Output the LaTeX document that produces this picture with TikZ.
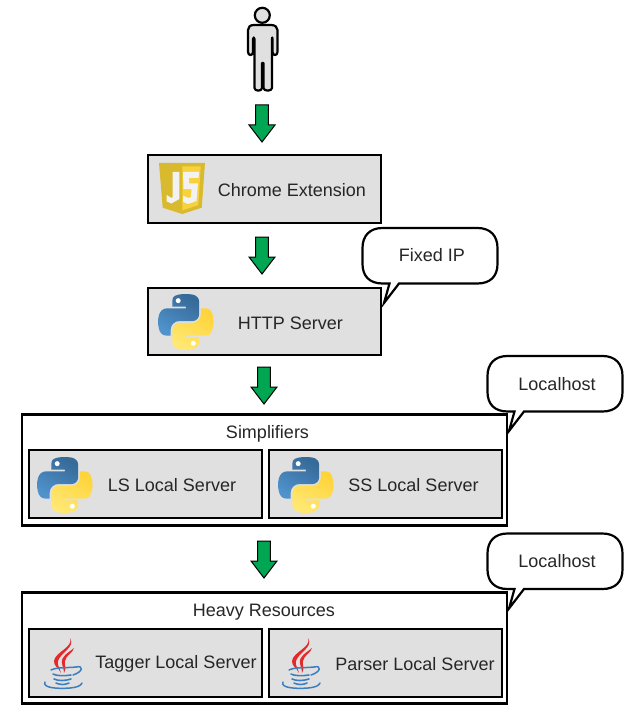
\documentclass[tikz,border=0pt]{standalone}
\usepackage{fontspec}
\setmainfont{Liberation Sans}
\usetikzlibrary{svg.path,calc}
\definecolor{boxgray}{HTML}{E0E0E0}
\definecolor{arrowgreen}{HTML}{00A651}
\definecolor{jsdark}{HTML}{D9B92E}
\definecolor{jslight}{HTML}{F7D23C}
\definecolor{jsletter}{HTML}{F2F2F2}
\definecolor{javared}{HTML}{E3292B}
\definecolor{javablue}{HTML}{3C7FC0}
\definecolor{pybluedark}{HTML}{366A98}
\definecolor{pybluelight}{HTML}{5092CC}
\definecolor{pyyeldark}{HTML}{FFD43B}
\definecolor{pyyellight}{HTML}{FFE873}
\tikzset{
  x=1pt,y=-1pt,
  lbl/.style={font=\fontsize{18}{20}\selectfont,text=black!85,inner sep=0pt},
  leaf/.style={draw=black,line width=2.6pt,fill=boxgray,inner sep=0pt,outer sep=0pt,minimum width=233pt,minimum height=68pt,anchor=north west},
  group/.style={draw=black,line width=2.6pt,fill=white,inner sep=0pt,outer sep=0pt,minimum width=485pt,minimum height=111pt,anchor=north west},
  bubble/.style={draw=black,line width=2.2pt,fill=white,line join=miter},
  blockarrow/.style={draw=black,line width=1pt,fill=arrowgreen,line join=miter},
  bubblepic/.pic={
    \draw[bubble] (20,0) -- (115,0) .. controls (128,0) and (135,8) .. (135,20) -- (135,36)
      .. controls (135,48) and (128,55.5) .. (115,55.5) -- (36.5,55.5) -- (21.5,75) -- (27,55.5) -- (20,55.5)
      .. controls (7,55.5) and (0,48) .. (0,36) -- (0,20) .. controls (0,8) and (7,0) .. (20,0) -- cycle;
  },
  pylogo/.pic={
    \begin{scope}[xscale=0.5,yscale=-0.5]
    \path[shade,top color=pybluedark,bottom color=pybluelight,shading angle=-30]
      svg {M 54.918785,0 C 50.335132,0.02221727 45.957846,0.41313697 42.106285,1.0946693 30.760069,3.0991731 28.700036,7.2947714 28.700035,15.032169 v 10.21875 h 26.8125 v 3.40625 h -26.8125 -10.0625 c -7.792459,0 -14.6157588,4.683717 -16.7499998,13.59375 -2.46181998,10.212966 -2.57101508,16.586023 0,27.25 1.9059283,7.937852 6.4575432,13.593748 14.2499998,13.59375 h 9.21875 v -12.25 c 0,-8.849902 7.657144,-16.656248 16.75,-16.65625 h 26.78125 c 7.454951,0 13.406253,-6.138164 13.40625,-13.625 v -25.53125 c 0,-7.2663386 -6.12998,-12.7247771 -13.40625,-13.9375 C 64.281548,0.32794397 59.502438,-0.02037903 54.918785,0 Z};
    \path[shade,top color=pyyeldark,bottom color=pyyellight,shading angle=-30]
      svg {M 85.637535,28.657169 v 11.90625 c 0,9.230755 -7.825895,16.999999 -16.75,17 h -26.78125 c -7.335833,0 -13.406249,6.278483 -13.40625,13.625 v 25.531247 c 0,7.266344 6.318588,11.540324 13.40625,13.625004 8.487331,2.49561 16.626237,2.94663 26.78125,0 6.750155,-1.95439 13.406253,-5.88761 13.40625,-13.625004 V 86.500919 h -26.78125 v -3.40625 h 26.78125 13.406254 c 7.792461,0 10.696251,-5.435408 13.406241,-13.59375 2.79933,-8.398886 2.68022,-16.475776 0,-27.25 -1.92578,-7.757441 -5.60387,-13.59375 -13.406241,-13.59375 Z};
    \fill[white] (40.4,-13.3) circle[radius=5pt];
    \fill[white] (70.6,-98.4) circle[radius=5pt];
    \end{scope}
  },
  javalogo/.pic={
    \fill[javared] (27,0) .. controls (31,9) and (12,14) .. (11,23) .. controls (10.5,28) and (16,30) .. (18,35)
      .. controls (17,30) and (14,28) .. (15,23) .. controls (17,15) and (33,9) .. (27,0) -- cycle;
    \fill[javared] (31,10) .. controls (25,15) and (18,18) .. (19,25) .. controls (19.5,29) and (21,31) .. (21,35)
      .. controls (24,30) and (21,27) .. (22,23) .. controls (23,17) and (30,15) .. (31,10) -- cycle;
    \draw[javablue,line width=1.5pt,line cap=round] (8,32) .. controls (14,29) and (24,30) .. (33,29);
    \draw[javablue,line width=1.5pt,line cap=round] (33,29) .. controls (41,27) and (40,34) .. (30,37);
    \draw[javablue,line width=1.6pt,line cap=round] (10,36) .. controls (13,38) and (22,38) .. (28,37);
    \draw[javablue,line width=1.6pt,line cap=round] (11,41) .. controls (15,43) and (22,43) .. (28,41);
    \draw[javablue,line width=1.6pt,line cap=round] (13,45) .. controls (17,47) and (22,47) .. (26,45);
    \draw[javablue,line width=1.5pt,line cap=round] (2,44) .. controls (-1,50) and (15,51) .. (27,50) .. controls (33,49.5) and (38,48) .. (39,45);
  },
  jslogo/.pic={
    \fill[jsdark] (0,0) -- (46,0) -- (42.7,44.7) -- (23.3,51) -- (3.7,44.7) -- cycle;
    \fill[jslight] (23.3,3.5) -- (41.7,3.5) -- (39.3,42) -- (23.3,47.5) -- cycle;
    \fill[jsletter] (13.7,9) -- (20.3,9) -- (20.3,36) -- (12.5,40.5) -- (7.7,38.5) -- (7.7,32) -- (12.5,35) -- (13.7,34) -- cycle;
    \fill[jsletter] (24,9) -- (40,9) -- (39.5,15) -- (30,15) -- (30,20.5) -- (39,20.5) -- (37.5,38) -- (29,41) -- (24,39) -- (24,32.5) -- (29,35) -- (32,34) -- (32.5,26) -- (24.5,26) -- cycle;
  }
}
\newcommand{\blockarr}[2]{%
  \draw[blockarrow] let \p1=(#1), \p2=(#2) in
    (\x1-6.3pt,\y1) -- (\x1+6.3pt,\y1) -- (\x1+6.3pt,\y2+17pt) -- (\x1+13pt,\y2+17pt)
    -- (\x1,\y2) -- (\x1-13pt,\y2+17pt) -- (\x1-6.3pt,\y2+17pt) -- cycle;}
\begin{document}
\begin{tikzpicture}
\useasboundingbox (0,0) rectangle (632,714);
% person
\coordinate (person) at (262,92);
\draw[black,line width=2.2pt,fill=boxgray] (262.3,15.3) circle[radius=7.5pt];
\draw[black,line width=2.2pt,fill=boxgray,line join=round]
  (254,25) -- (271,25) .. controls (275,25) and (277.5,27) .. (277.5,30) -- (277.5,52)
  .. controls (277.5,56) and (272.5,56) .. (272.5,52) -- (272.5,39) .. controls (272.5,37) and (272,37) .. (272,39)
  -- (272,88) .. controls (272,91.5) and (263.5,91.5) .. (263.5,88) -- (263.5,63) -- (262,63) -- (262,88)
  .. controls (262,91.5) and (254.5,91.5) .. (254.5,88) -- (254.5,39) .. controls (254.5,37) and (253,37) .. (253,39) -- (253,52)
  .. controls (253,56) and (248,56) .. (248,52) -- (248,30) .. controls (248,27) and (250,25) .. (254,25) -- cycle;
% boxes
\node[leaf,minimum height=68pt] (chrome) at (148,155) {};
\node[leaf,minimum height=67pt] (http) at (148,288) {};
\node[group] (simp) at (22,414.5) {};
\node[leaf] (ls) at (29,450) {};
\node[leaf] (ss) at (269,450) {};
\node[group] (heavy) at (22,592.5) {};
\node[leaf] (tagger) at (29,629) {};
\node[leaf] (parser) at (269,629) {};
% logos
\pic at (159,163) {jslogo};
\pic at (158,294) {pylogo};
\pic at (37,457) {pylogo};
\pic at (278,457) {pylogo};
\pic at (43,638) {javalogo};
\pic at (281,638) {javalogo};
% labels
\node[lbl] (tchrome) at (292,190) {Chrome Extension};
\node[lbl] (thttp) at (290.5,323) {HTTP Server};
\node[lbl] (tsimp) at (267.5,434) {Simplifiers};
\node[lbl] (tls) at (172,485) {LS Local Server};
\node[lbl] (tss) at (413.5,485) {SS Local Server};
\node[lbl] (theavy) at (264,612) {Heavy Resources};
\node[lbl] (ttag) at (176,664) {Tagger Local Server};
\node[lbl] (tpar) at (415,664) {Parser Local Server};
% bubbles
\pic at (362.5,228) {bubblepic};
\node[lbl] (b1) at (432,255) {Fixed IP};
\pic at (487.5,356) {bubblepic};
\node[lbl] (b2) at (557,384) {Localhost};
\pic at (487.5,533.5) {bubblepic};
\node[lbl] (b3) at (557,561) {Localhost};
% arrows
\coordinate (a1s) at (262,105); \coordinate (a1e) at (262,142);
\coordinate (a2s) at (262,237); \coordinate (a2e) at (262,274);
\coordinate (a3s) at (264,367); \coordinate (a3e) at (264,404);
\coordinate (a4s) at (264,541); \coordinate (a4e) at (264,578);
\blockarr{a1s}{a1e}
\blockarr{a2s}{a2e}
\blockarr{a3s}{a3e}
\blockarr{a4s}{a4e}
\end{tikzpicture}
\end{document}
